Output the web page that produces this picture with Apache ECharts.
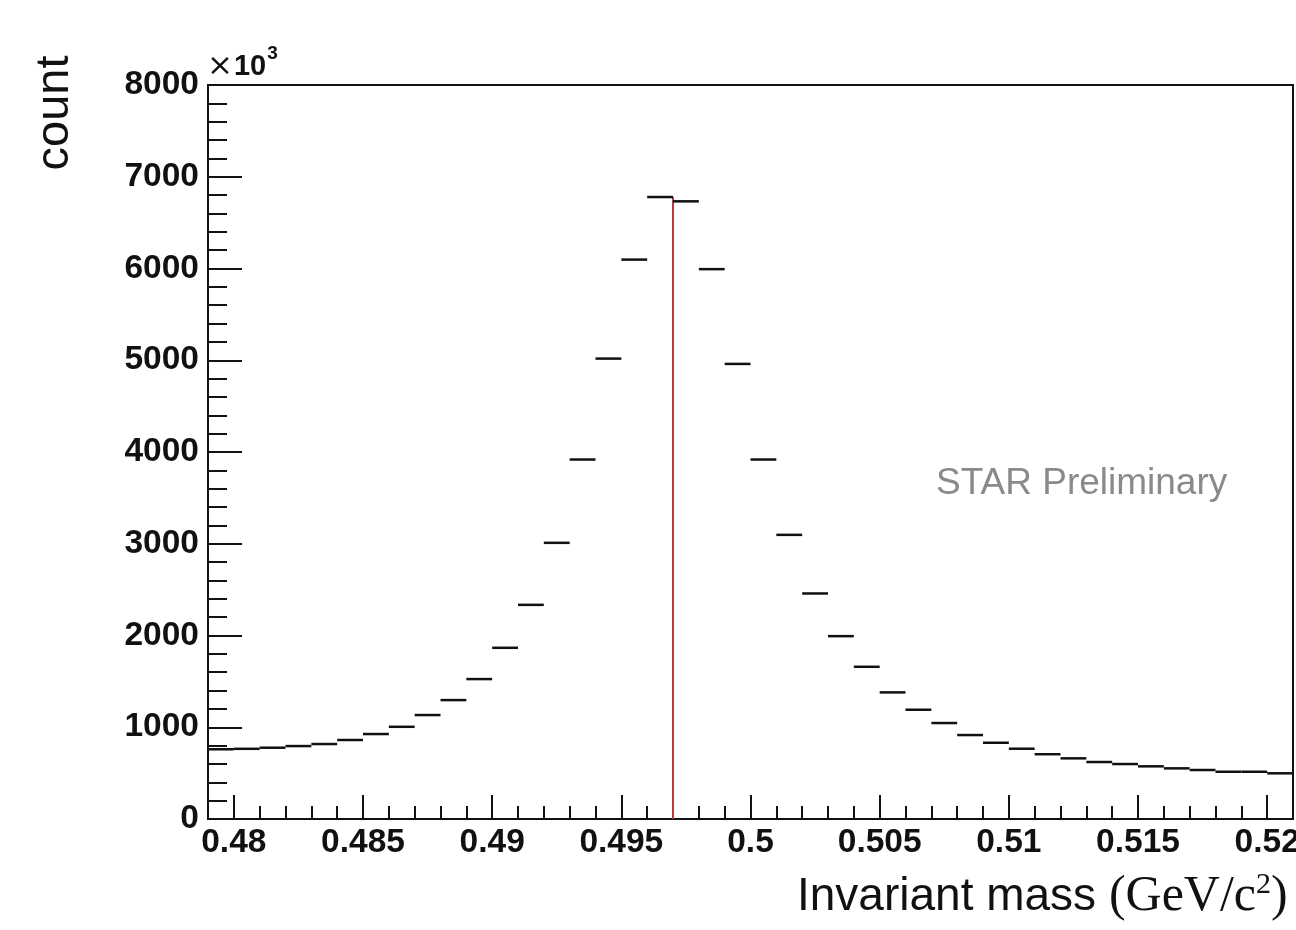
<!DOCTYPE html>
<html>
<head>
<meta charset="utf-8">
<script src="https://cdn.jsdelivr.net/npm/echarts@6/dist/echarts.min.js"></script>
<style>
  html, body { margin: 0; padding: 0; background: #fff; }
  #main { width: 1296px; height: 930px; }
</style>
</head>
<body>
<div id="main"></div>
<script>
// bin low edges (GeV/c^2), each bin 0.001 wide
var massLow = [
  0.479, 0.480, 0.481, 0.482, 0.483, 0.484, 0.485, 0.486, 0.487, 0.488,
  0.489, 0.490, 0.491, 0.492, 0.493, 0.494, 0.495, 0.496, 0.497, 0.498,
  0.499, 0.500, 0.501, 0.502, 0.503, 0.504, 0.505, 0.506, 0.507, 0.508,
  0.509, 0.510, 0.511, 0.512, 0.513, 0.514, 0.515, 0.516, 0.517, 0.518,
  0.519, 0.520
];
var binWidth = 0.001;

// counts in units of 10^3
var counts = [
  760, 765, 777, 795, 817, 861, 926, 1005, 1133, 1296,
  1525, 1866, 2334, 3010, 3918, 5018, 6097, 6779, 6732, 5993,
  4960, 3918, 3097, 2458, 1993, 1659, 1380, 1191, 1046, 915,
  831, 766, 706, 661, 621, 599, 574, 552, 534, 515,
  515, 498
];

// red marker at the peak
var peakMass = [0.497, 0.497];
var peakCount = [0, 6779];

var xTicks = [0.48, 0.485, 0.49, 0.495, 0.5, 0.505, 0.51, 0.515, 0.52];

var histData = massLow.map(function (lo, i) {
  return [lo, lo + binWidth, counts[i]];
});
var peakData = peakMass.map(function (m, i) {
  return [m, peakCount[i]];
});

var sans = 'Liberation Sans, Arial, sans-serif';
var serif = 'Liberation Serif, DejaVu Serif, serif';

var labelFont = {
  color: '#111',
  fontSize: 33.5,
  fontWeight: 'bold',
  fontFamily: sans
};

var option = {
  backgroundColor: '#fff',
  animation: false,
  grid: {
    left: 208,
    top: 85,
    right: 3,
    bottom: 111,
    outerBoundsMode: 'none',
    show: true,
    borderColor: '#111',
    borderWidth: 2,
    backgroundColor: 'transparent'
  },
  xAxis: [{
    type: 'value',
    min: 0.479,
    max: 0.521,
    position: 'bottom',
    axisLine: { show: true, lineStyle: { color: '#111', width: 2 } },
    axisTick: {
      show: true,
      inside: true,
      length: 24,
      customValues: xTicks,
      lineStyle: { color: '#111', width: 2 }
    },
    axisLabel: Object.assign({
      margin: 7,
      customValues: xTicks,
      hideOverlap: false,
      formatter: function (v) { return String(v); }
    }, labelFont),
    splitLine: { show: false }
  }, {
    type: 'value',
    min: 0.479,
    max: 0.521,
    interval: 0.001,
    position: 'bottom',
    axisLine: { show: false },
    axisTick: {
      show: true,
      inside: true,
      length: 13,
      lineStyle: { color: '#111', width: 2 }
    },
    axisLabel: { show: false },
    splitLine: { show: false }
  }],
  yAxis: {
    type: 'value',
    min: 0,
    max: 8000,
    interval: 1000,
    axisLine: { show: true, lineStyle: { color: '#111', width: 2 } },
    axisTick: {
      show: true,
      inside: true,
      length: 34,
      lineStyle: { color: '#111', width: 2 }
    },
    minorTick: {
      show: true,
      splitNumber: 5,
      length: 19,
      lineStyle: { color: '#111', width: 2 }
    },
    axisLabel: Object.assign({
      margin: 9,
      formatter: function (v) { return String(v); }
    }, labelFont),
    splitLine: { show: false }
  },
  graphic: [{
    type: 'text',
    left: 207,
    top: 44,
    style: {
      text: '{x|×}{b|10}{s|3}',
      rich: {
        x: { fontSize: 31, fontFamily: 'DejaVu Sans, sans-serif', fill: '#111', padding: [12, 1, 0, 0] },
        b: { fontSize: 29, fontWeight: 'bold', fontFamily: sans, fill: '#111', padding: [12, 0, 0, 0] },
        s: { fontSize: 19, fontWeight: 'bold', fontFamily: sans, fill: '#111', padding: [0, 0, 14, 1] }
      }
    }
  }, {
    type: 'text',
    x: 55,
    y: 113,
    rotation: Math.PI / 2,
    style: {
      text: 'count',
      fill: '#111',
      fontSize: 47,
      fontFamily: sans,
      align: 'center',
      verticalAlign: 'middle'
    }
  }, {
    type: 'text',
    left: 797,
    top: 870,
    style: {
      text: '{a|Invariant mass }{m|(GeV/c}{s|2}{m|)}',
      rich: {
        a: { fontSize: 46, fontFamily: sans, fill: '#111' },
        m: { fontSize: 50, fontFamily: serif, fill: '#111' },
        s: { fontSize: 30, fontFamily: serif, fill: '#111', padding: [0, 0, 24, 0] }
      }
    }
  }, {
    type: 'text',
    left: 936,
    top: 465,
    style: {
      text: 'STAR Preliminary',
      fill: '#8a8a8a',
      fontSize: 37,
      fontFamily: sans
    }
  }],
  series: [{
    name: 'counts',
    type: 'custom',
    xAxisIndex: 0,
    yAxisIndex: 0,
    encode: { x: [0, 1], y: 2 },
    renderItem: function (params, api) {
      var p0 = api.coord([api.value(0), api.value(2)]);
      var p1 = api.coord([api.value(1), api.value(2)]);
      return {
        type: 'line',
        shape: { x1: p0[0], y1: p0[1], x2: p1[0], y2: p1[1] },
        style: { stroke: '#111', lineWidth: 2.5 }
      };
    },
    data: histData
  }, {
    name: 'peak',
    type: 'line',
    xAxisIndex: 0,
    yAxisIndex: 0,
    symbol: 'none',
    lineStyle: { color: '#b83a3a', width: 2 },
    data: peakData,
    z: 1
  }]
};

var chart = echarts.init(document.getElementById('main'));
chart.setOption(option);
</script>
</body>
</html>
